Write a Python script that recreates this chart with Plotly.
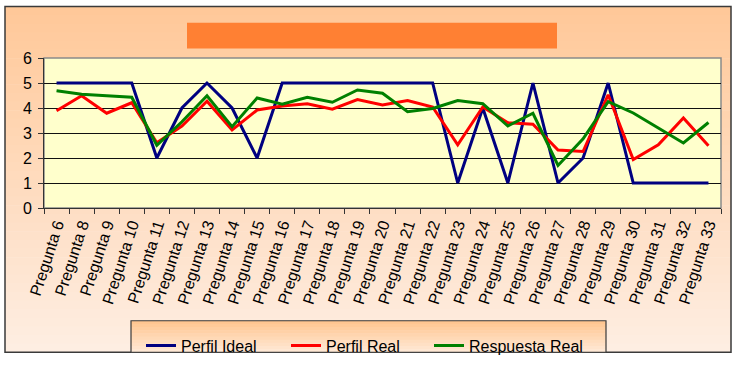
import plotly.graph_objects as go

categories = ["Pregunta 6", "Pregunta 8", "Pregunta 9", "Pregunta 10", "Pregunta 11",
              "Pregunta 12", "Pregunta 13", "Pregunta 14", "Pregunta 15", "Pregunta 16",
              "Pregunta 17", "Pregunta 18", "Pregunta 19", "Pregunta 20", "Pregunta 21",
              "Pregunta 22", "Pregunta 23", "Pregunta 24", "Pregunta 25", "Pregunta 26",
              "Pregunta 27", "Pregunta 28", "Pregunta 29", "Pregunta 30", "Pregunta 31",
              "Pregunta 32", "Pregunta 33"]
perfil_ideal = [5, 5, 5, 5, 2, 4, 5, 4, 2, 5, 5, 5, 5, 5, 5, 5, 1, 4, 1, 5, 1, 2, 5, 1, 1, 1, 1]
perfil_real = [3.89, 4.49, 3.79, 4.21, 2.61, 3.28, 4.27, 3.12, 3.92, 4.08, 4.17, 3.95, 4.34,
               4.12, 4.30, 4.04, 2.53, 4.04, 3.41, 3.35, 2.32, 2.26, 4.53, 1.94, 2.53, 3.60, 2.49]
respuesta_real = [4.69, 4.55, 4.49, 4.43, 2.51, 3.45, 4.49, 3.25, 4.40, 4.15, 4.43, 4.23, 4.72,
                  4.59, 3.85, 3.98, 4.30, 4.17, 3.28, 3.79, 1.70, 2.77, 4.25, 3.80, 3.20, 2.60, 3.42]
y_ticks = [0, 1, 2, 3, 4, 5, 6]

W, H = 740, 374
L, R, T, B = 44, 721, 58, 215  # plot area in pixels
pw, ph = R - L, B - T


def px(x):
    return (x - L) / pw


def py(y):
    return (B - y) / ph


def lerp(c1, c2, t):
    return "rgb(%d,%d,%d)" % tuple(round(a + (b - a) * t) for a, b in zip(c1, c2))


shapes = []
# chart background gradient
top_c, bot_c = (255, 200, 153), (254, 238, 226)
y0, y1 = 4, 366
n = 40
for i in range(n):
    a = y0 + (y1 - y0) * i / n
    b = y0 + (y1 - y0) * (i + 1) / n + 0.6
    shapes.append(dict(type="rect", xref="paper", yref="paper", layer="below",
                       x0=px(5), x1=px(731), y0=py(a), y1=py(min(b, y1)),
                       line=dict(width=0), fillcolor=lerp(top_c, bot_c, i / (n - 1))))
# chart border
shapes.append(dict(type="rect", xref="paper", yref="paper", layer="below",
                   x0=px(5), x1=px(731), y0=py(4), y1=py(366),
                   line=dict(color="#3a3a3a", width=1.5), fillcolor="rgba(0,0,0,0)"))
# title box
shapes.append(dict(type="rect", xref="paper", yref="paper", layer="below",
                   x0=px(187), x1=px(557), y0=py(21), y1=py(48),
                   line=dict(width=0), fillcolor="#FF8033"))
# plot area background + border
shapes.append(dict(type="rect", xref="paper", yref="paper", layer="below",
                   x0=0, x1=1, y0=0, y1=1,
                   line=dict(color="#8a8a8a", width=1.5), fillcolor="#FFFFCC"))
# legend box gradient
lt, lb = (255, 198, 145), (255, 232, 212)
ly0, ly1 = 333, 366
m = 10
for i in range(m):
    a = ly0 + (ly1 - ly0) * i / m
    b = ly0 + (ly1 - ly0) * (i + 1) / m + 0.5
    shapes.append(dict(type="rect", xref="paper", yref="paper", layer="below",
                       x0=px(131), x1=px(606), y0=py(a), y1=py(min(b, ly1)),
                       line=dict(width=0), fillcolor=lerp(lt, lb, i / (m - 1))))
shapes.append(dict(type="rect", xref="paper", yref="paper", layer="below",
                   x0=px(131), x1=px(606), y0=py(ly0), y1=py(ly1),
                   line=dict(color="#3a3a3a", width=1.2), fillcolor="rgba(0,0,0,0)"))

fig = go.Figure()
fig.add_trace(go.Scatter(x=categories, y=perfil_ideal, mode="lines", name="Perfil Ideal",
                         line=dict(color="#000080", width=3), legend="legend"))
fig.add_trace(go.Scatter(x=categories, y=perfil_real, mode="lines", name="Perfil Real",
                         line=dict(color="#FF0000", width=3), legend="legend2"))
fig.add_trace(go.Scatter(x=categories, y=respuesta_real, mode="lines", name="Respuesta Real",
                         line=dict(color="#008000", width=3), legend="legend3"))

font = "Liberation Sans, Arial, sans-serif"


def leg(xpix):
    return dict(orientation="h", x=px(xpix), xanchor="left", y=py(359), yanchor="middle",
                bgcolor="rgba(0,0,0,0)", borderwidth=0, font=dict(size=16))


fig.update_layout(
    width=W, height=H,
    margin=dict(l=L, r=W - R, t=T, b=H - B, pad=0),
    paper_bgcolor="white",
    plot_bgcolor="rgba(0,0,0,0)",
    font=dict(family=font, size=16, color="black"),
    shapes=shapes,
    showlegend=True,
    legend=leg(141),
    legend2=leg(286),
    legend3=leg(429),
    xaxis=dict(type="category", range=[-0.5, len(categories) - 0.5], tickangle=-72,
               tickson="boundaries", ticks="outside",
               ticklen=5, tickcolor="#333", showline=True, linecolor="#333", linewidth=1,
               showgrid=False, tickfont=dict(size=16), automargin=False, fixedrange=True),
    yaxis=dict(range=[0, 6], tickvals=y_ticks, ticks="outside", ticklen=5, tickcolor="#333",
               ticklabelstandoff=3,
               showline=True, linecolor="#333", linewidth=1, showgrid=True,
               gridcolor="#111", gridwidth=1, zeroline=False, tickfont=dict(size=16),
               automargin=False, fixedrange=True),
)

post = (
    "var d=document.documentElement,b=document.body;"
    "d.style.margin='0';d.style.padding='0';d.style.overflow='hidden';d.style.height='374px';"
    "b.style.margin='0';b.style.padding='0';b.style.overflow='hidden';b.style.height='374px';"
)
fig.write_html("out.html", config={"displayModeBar": False}, post_script=post)
